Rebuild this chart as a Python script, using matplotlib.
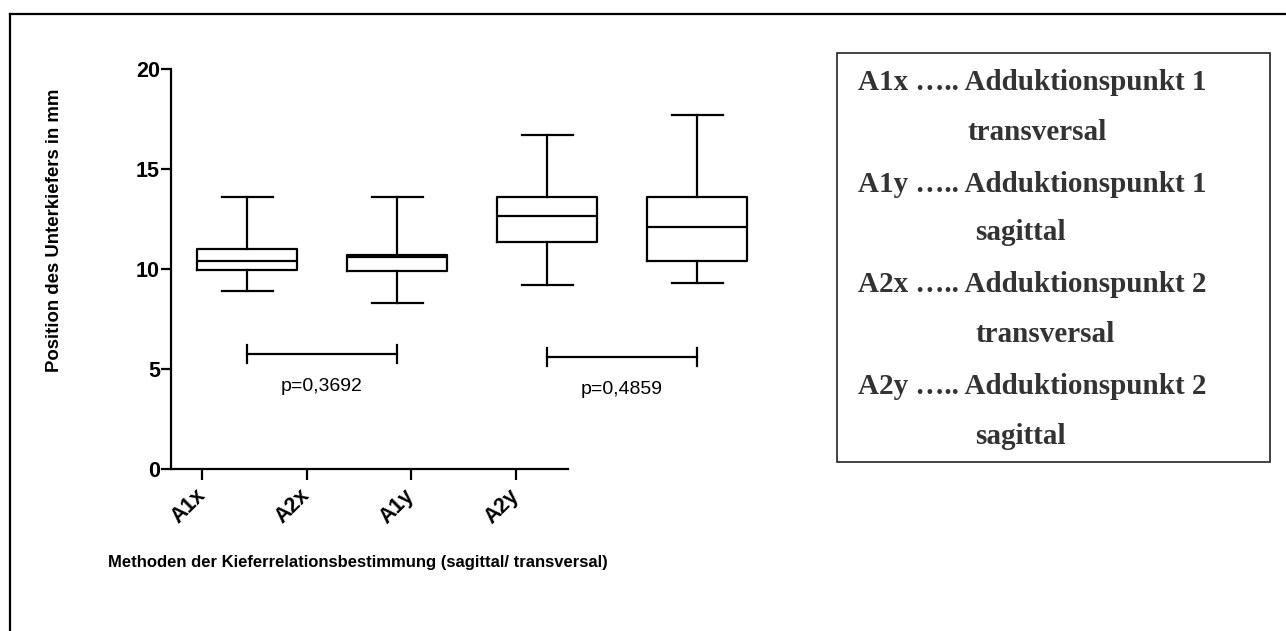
import matplotlib
matplotlib.use("Agg")
import matplotlib.pyplot as plt
from matplotlib.lines import Line2D
from matplotlib.patches import Rectangle

# ==============================
# Data (five-number summaries)
# ==============================
groups = ["A1x", "A2x", "A1y", "A2y"]
whisker_low = [8.9, 8.3, 9.18, 9.3]
quart_1 = [9.95, 9.92, 11.37, 10.4]
medians = [10.4, 10.62, 12.63, 12.12]
quart_3 = [11.0, 10.7, 13.6, 13.62]
whisker_high = [13.6, 13.6, 16.7, 17.72]

# pairwise comparisons: (left group, right group), bracket height, p-value
pairs = [(0, 1), (2, 3)]
bracket_y = [5.75, 5.62]
p_values = ["0,3692", "0,4859"]

legend_lines = [
    ("A1x ….. Adduktionspunkt 1", "transversal"),
    ("A1y ….. Adduktionspunkt 1", "sagittal"),
    ("A2x ….. Adduktionspunkt 2", "transversal"),
    ("A2y ….. Adduktionspunkt 2", "sagittal"),
]

W, H = 1286, 631
fig = plt.figure(figsize=(W / 100, H / 100), dpi=100)

SANS = ["Liberation Sans", "DejaVu Sans"]
SERIF = ["Liberation Serif", "DejaVu Serif"]


def px_rect(x0, y0, x1, y1):
    # pixel box (top-left origin) -> figure fraction [left, bottom, width, height]
    return [x0 / W, (H - y1) / H, (x1 - x0) / W, (y1 - y0) / H]


# ==============================
# Axis frame with category ticks
# ==============================
ax = fig.add_axes(px_rect(171, 69, 568, 469))
ax.set_xlim(-0.3, 3.5)
ax.set_ylim(0, 20)
for s in ["top", "right"]:
    ax.spines[s].set_visible(False)
for s in ["left", "bottom"]:
    ax.spines[s].set_linewidth(1.6)
ax.set_yticks([0, 5, 10, 15, 20])
ax.set_xticks(range(len(groups)))
ax.set_xticklabels(groups, rotation=45, ha="right", va="center",
                   rotation_mode="anchor")
ax.tick_params(axis="y", length=7.5, width=1.6, pad=0.5, labelsize=15.5)
ax.tick_params(axis="x", length=8, width=1.6, pad=9, labelsize=15.5)
for lab in ax.get_xticklabels() + ax.get_yticklabels():
    lab.set_fontweight("bold")
    lab.set_family(SANS)
ax.patch.set_alpha(0)

# ==============================
# Boxes on their own overlay axes
# ==============================
axb = fig.add_axes(px_rect(171, 69, 760, 469))
axb.set_xlim(-76 / 150, -76 / 150 + 589 / 150)
axb.set_ylim(0, 20)
axb.axis("off")

stats = []
for i, g in enumerate(groups):
    stats.append(dict(label=g, whislo=whisker_low[i], q1=quart_1[i],
                      med=medians[i], q3=quart_3[i], whishi=whisker_high[i],
                      fliers=[]))

line_kw = dict(color="black", linewidth=1.6)
axb.bxp(stats, positions=range(len(groups)), widths=0.667, capwidths=0.34,
        showfliers=False, manage_ticks=False,
        boxprops=line_kw, whiskerprops=line_kw, capprops=line_kw,
        medianprops=line_kw)

# significance brackets
for (a, b), yb, p in zip(pairs, bracket_y, p_values):
    axb.plot([a, b], [yb, yb], color="black", lw=1.6)
    axb.plot([a, a], [yb - 0.45, yb + 0.45], color="black", lw=1.6)
    axb.plot([b, b], [yb - 0.45, yb + 0.45], color="black", lw=1.6)
    axb.text((a + b) / 2, yb - 1.62, f"p={p}", ha="center", va="center",
             fontsize=14, family=SANS)

# axis titles
fig.text(55 / W, 1 - 230 / H, "Position des Unterkiefers in mm", rotation=90,
         ha="center", va="center", fontsize=13.4, fontweight="bold",
         family=SANS)
fig.text(108 / W, 1 - 563 / H,
         "Methoden der Kieferrelationsbestimmung (sagittal/ transversal)",
         ha="left", va="center", fontsize=12, fontweight="bold", family=SANS)

# ==============================
# Legend panel
# ==============================
fig.patches.append(Rectangle((837 / W, (H - 462) / H), 433 / W, 409 / H,
                             transform=fig.transFigure, fill=False,
                             edgecolor="#222222", linewidth=1.2))
row_y = [83, 133, 185, 233, 285, 335, 387, 437]
sub_x = [967, 975, 975, 975]
for k, (main, sub) in enumerate(legend_lines):
    fig.text(858 / W, 1 - row_y[2 * k] / H, main, ha="left", va="center",
             fontsize=21, fontweight="bold", color="#333333", family=SERIF)
    fig.text(sub_x[k] / W, 1 - row_y[2 * k + 1] / H, sub, ha="left",
             va="center", fontsize=21, fontweight="bold", color="#333333",
             family=SERIF)

# outer frame (top and left edge)
fig.lines.append(Line2D([10 / W, 1], [1 - 14 / H, 1 - 14 / H],
                        transform=fig.transFigure, color="black", lw=1.6))
fig.lines.append(Line2D([10 / W, 10 / W], [0, 1 - 14 / H],
                        transform=fig.transFigure, color="black", lw=1.6))

fig.savefig("out.png", dpi=100)
